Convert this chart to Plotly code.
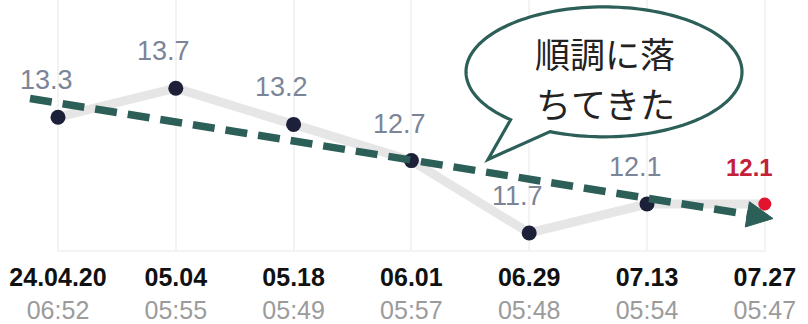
import numpy as np
import plotly.graph_objects as go

# Measurement series
dates = ["24.04.20", "05.04", "05.18", "06.01", "06.29", "07.13", "07.27"]
times = ["06:52", "05:55", "05:49", "05:57", "05:48", "05:54", "05:47"]
values = [13.3, 13.7, 13.2, 12.7, 11.7, 12.1, 12.1]

W, H = 808, 324
PLOT_BOTTOM = 256  # pixel row of the baseline

TEAL = "#2b5f57"
NAVY = "#1d2039"
RED = "#e3122d"

x = list(range(len(values)))

# paper-coordinate helpers (plot area spans full width, rows 0..PLOT_BOTTOM)
def px(v):
    return v / W

def py(v):
    return (PLOT_BOTTOM - v) / PLOT_BOTTOM

fig = go.Figure()

# thick grey connecting line
fig.add_trace(go.Scatter(
    x=x, y=values, mode="lines",
    line=dict(color="#e6e6e6", width=9),
    hoverinfo="skip", showlegend=False,
))

# markers: dark for history, red for the latest reading
colors = [NAVY] * (len(values) - 1) + [RED]
sizes = [15] * (len(values) - 1) + [13]
fig.add_trace(go.Scatter(
    x=x, y=values, mode="markers",
    marker=dict(color=colors, size=sizes, opacity=1, line=dict(width=0)),
    showlegend=False,
))

# value labels above each point
annotations = []
for i, v in enumerate(values):
    last = i == len(values) - 1
    annotations.append(dict(
        x=i, y=v, xref="x", yref="y",
        text=f"<b>{v}</b>" if last else f"{v}",
        showarrow=False, yshift=37, xshift=-15 if last else -12,
        xanchor="center", yanchor="middle",
        font=dict(family="Liberation Sans, Arial", size=24 if last else 27,
                  color="#c42039" if last else "#7b8597"),
    ))

# speech bubble text, one annotation per line
for line_text, row in (("順調に落", 53), ("ちてきた", 104)):
    annotations.append(dict(x=px(605), y=py(row), xref="paper", yref="paper",
                            xanchor="center", yanchor="middle",
                            text=line_text, showarrow=False,
                            font=dict(family="Noto Sans CJK JP", size=35,
                                      color="#222222")))

shapes = []

# baseline
shapes.append(dict(type="line", xref="paper", yref="paper",
                   x0=px(58), x1=px(764), y0=py(PLOT_BOTTOM - 1), y1=py(PLOT_BOTTOM - 1),
                   line=dict(color="#efefef", width=1.5), layer="below"))

# speech bubble outline: ellipse with a tail pointing down-left
cx, cy, rx, ry = 604, 73, 138, 66
a_start, a_end = np.deg2rad(113), np.deg2rad(132.6 - 360)
th = np.linspace(a_start, a_end, 160)
ex = cx + rx * np.cos(th)
ey = cy + ry * np.sin(th)
pts = [(ex[k], ey[k]) for k in range(len(th))]
pts.append((488, 162))
path = "M " + " L ".join(f"{px(a):.5f},{py(b):.5f}" for a, b in pts) + " Z"
shapes.append(dict(type="path", xref="paper", yref="paper", path=path,
                   fillcolor="white", line=dict(color=TEAL, width=3.2), layer="above"))

# dashed trend arrow
x0a, y0a = 30, 100
tip = np.array([773.0, 222.0])
d = tip - np.array([x0a, y0a])
d = d / np.linalg.norm(d)
perp = np.array([-d[1], d[0]])
base = tip - 26 * d
shapes.append(dict(type="line", xref="paper", yref="paper",
                   x0=px(x0a), y0=py(y0a), x1=px(base[0] + 2 * d[0]), y1=py(base[1] + 2 * d[1]),
                   line=dict(color=TEAL, width=7.5, dash="22px,11px"), layer="above"))
b1 = base + 13 * perp
b2 = base - 13 * perp
head = (f"M {px(tip[0]):.5f},{py(tip[1]):.5f} L {px(b1[0]):.5f},{py(b1[1]):.5f} "
        f"L {px(b2[0]):.5f},{py(b2[1]):.5f} Z")
shapes.append(dict(type="path", xref="paper", yref="paper", path=head,
                   fillcolor=TEAL, line=dict(color=TEAL, width=1), layer="above"))

ticktext = [f"<b>{d_}</b><br><span style='color:#9b9b9b'>{t}</span>"
            for d_, t in zip(dates, times)]

# pixel -> value mapping for the axes
slope = 73.5
intercept = 1096.6
y_top = intercept / slope
y_bot = (intercept - PLOT_BOTTOM) / slope
step = 117.8
x_lo = -58 / step
x_hi = (W - 58) / step

fig.update_layout(
    width=W, height=H,
    margin=dict(l=0, r=0, t=0, b=H - PLOT_BOTTOM, pad=0),
    paper_bgcolor="white", plot_bgcolor="white",
    font=dict(family="Liberation Sans, Arial", color="#111111"),
    xaxis=dict(range=[x_lo, x_hi], tickvals=x, ticktext=ticktext,
               showgrid=True, gridcolor="#f3f3f3", gridwidth=1.5,
               zeroline=False, showline=False, ticks="",
               ticklabelstandoff=8,
               tickfont=dict(size=25, color="#111111"),
               fixedrange=True),
    yaxis=dict(range=[y_bot, y_top], visible=False, showgrid=False,
               zeroline=False, fixedrange=True),
    annotations=annotations,
    shapes=shapes,
    showlegend=False,
)

fig.write_html("out.html")
